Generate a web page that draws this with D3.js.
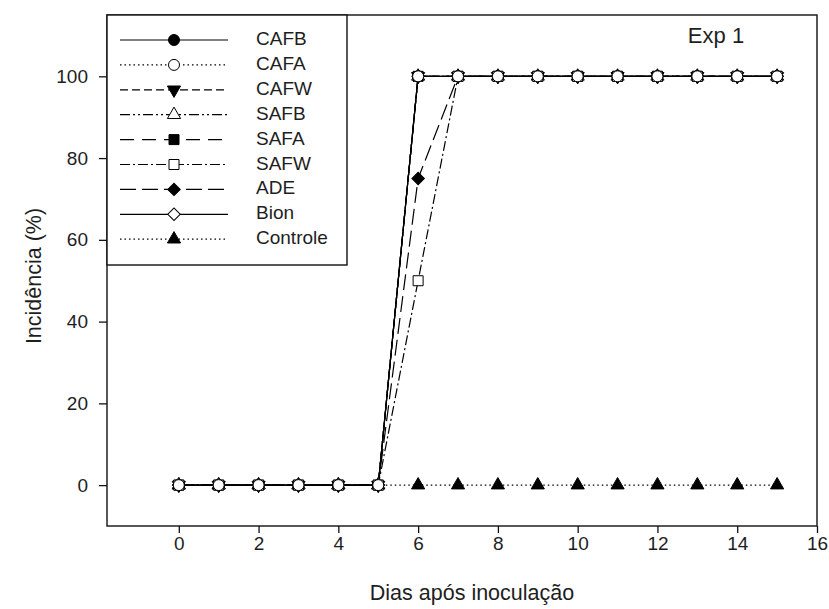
<!DOCTYPE html>
<html lang="pt">
<head>
  <meta charset="UTF-8">
  <title>Exp 1 - Incidência</title>
  <style>
    body { margin: 0; background: #fff; font-family: Arial, "Liberation Sans", sans-serif; }
    #chart { width: 829px; height: 609px; }
  </style>
  <script src="https://d3js.org/d3.v7.min.js"></script>
</head>
<body>
  <div id="chart"></div>
  <script>
    // data
    const days = [0, 1, 2, 3, 4, 5, 6, 7, 8, 9, 10, 11, 12, 13, 14, 15];
    const seriesNames = ["CAFB", "CAFA", "CAFW", "SAFB", "SAFA", "SAFW", "ADE", "Bion", "Controle"];
    const CAFB     = [0, 0, 0, 0, 0, 0, 100, 100, 100, 100, 100, 100, 100, 100, 100, 100];
    const CAFA     = [0, 0, 0, 0, 0, 0, 100, 100, 100, 100, 100, 100, 100, 100, 100, 100];
    const CAFW     = [0, 0, 0, 0, 0, 0, 100, 100, 100, 100, 100, 100, 100, 100, 100, 100];
    const SAFB     = [0, 0, 0, 0, 0, 0, 100, 100, 100, 100, 100, 100, 100, 100, 100, 100];
    const SAFA     = [0, 0, 0, 0, 0, 0, 100, 100, 100, 100, 100, 100, 100, 100, 100, 100];
    const SAFW     = [0, 0, 0, 0, 0, 0, 50, 100, 100, 100, 100, 100, 100, 100, 100, 100];
    const ADE      = [0, 0, 0, 0, 0, 0, 75, 100, 100, 100, 100, 100, 100, 100, 100, 100];
    const Bion     = [0, 0, 0, 0, 0, 0, 100, 100, 100, 100, 100, 100, 100, 100, 100, 100];
    const Controle = [0, 0, 0, 0, 0, 0, 0, 0, 0, 0, 0, 0, 0, 0, 0, 0];
    const xTicks = [0, 2, 4, 6, 8, 10, 12, 14, 16];
    const yTicks = [0, 20, 40, 60, 80, 100];

    const seriesValues = [CAFB, CAFA, CAFW, SAFB, SAFA, SAFW, ADE, Bion, Controle];

    // line / marker styles per series
    const styles = {
      CAFB:     {dash: null,            shape: "circle",   fill: "#000"},
      CAFA:     {dash: "1.5,3",         shape: "circle",   fill: "#fff"},
      CAFW:     {dash: "8,4",           shape: "triDown",  fill: "#000"},
      SAFB:     {dash: "10,3,2,3,2,3",  shape: "triUp",    fill: "#fff"},
      SAFA:     {dash: "14,8",          shape: "square",   fill: "#000"},
      SAFW:     {dash: "10,3,2,3",      shape: "square",   fill: "#fff"},
      ADE:      {dash: "16,6",          shape: "diamond",  fill: "#000"},
      Bion:     {dash: null,            shape: "diamond",  fill: "#fff"},
      Controle: {dash: "1.5,3",         shape: "triUp",    fill: "#000"}
    };

    const W = 829, H = 609;
    const plot = {left: 107, right: 817, top: 15, bottom: 526};
    const font = "Arial, 'Liberation Sans', sans-serif";
    const ink = "#1e1e1e";

    const svg = d3.select("#chart").append("svg")
      .attr("width", W)
      .attr("height", H);

    const x = d3.scaleLinear().domain([-1.8, 16]).range([plot.left, plot.right]);
    const y = d3.scaleLinear().domain([-10, 115]).range([plot.bottom, plot.top]);

    function markerPath(shape) {
      if (shape === "circle") return d3.symbol(d3.symbolCircle, 95)();
      if (shape === "square") return d3.symbol(d3.symbolSquare, 100)();
      if (shape === "diamond") return d3.symbol(d3.symbolSquare, 78)();
      return d3.symbol(d3.symbolTriangle, 75)();
    }
    function markerRotate(shape) {
      if (shape === "diamond") return 45;
      if (shape === "triDown") return 180;
      return 0;
    }

    // axes
    svg.append("g")
      .attr("transform", `translate(0,${plot.bottom})`)
      .call(d3.axisBottom(x).tickValues(xTicks).tickSize(7).tickPadding(4).tickSizeOuter(0))
      .call(g => g.select(".domain").remove())
      .call(g => g.selectAll("line").attr("stroke", "#111").attr("stroke-width", 1.3))
      .call(g => g.selectAll("text").attr("font-size", 19).attr("fill", ink).attr("font-family", font));

    svg.append("g")
      .attr("transform", `translate(${plot.left},0)`)
      .call(d3.axisLeft(y).tickValues(yTicks).tickSize(8).tickPadding(11).tickSizeOuter(0))
      .call(g => g.select(".domain").remove())
      .call(g => g.selectAll("line").attr("stroke", "#111").attr("stroke-width", 1.3))
      .call(g => g.selectAll("text").attr("font-size", 19).attr("fill", ink).attr("font-family", font));

    // plot frame
    svg.append("rect")
      .attr("x", plot.left)
      .attr("y", plot.top)
      .attr("width", plot.right - plot.left)
      .attr("height", plot.bottom - plot.top)
      .attr("fill", "none")
      .attr("stroke", "#111")
      .attr("stroke-width", 1.4);

    // lines
    const line = d3.line()
      .x((d, i) => x(days[i]))
      .y(d => y(d));

    const drawOrder = [8, 0, 2, 3, 4, 5, 6, 7, 1];

    drawOrder.forEach(k => {
      const st = styles[seriesNames[k]];
      svg.append("path")
        .datum(seriesValues[k])
        .attr("d", line)
        .attr("fill", "none")
        .attr("stroke", "#000")
        .attr("stroke-width", 1.2)
        .attr("stroke-dasharray", st.dash);
    });

    drawOrder.forEach(k => {
      const st = styles[seriesNames[k]];
      svg.append("g").selectAll("path")
        .data(seriesValues[k])
        .enter()
        .append("path")
        .attr("d", markerPath(st.shape))
        .attr("transform", (d, i) => `translate(${x(days[i])},${y(d)}) rotate(${markerRotate(st.shape)})`)
        .attr("fill", st.fill)
        .attr("stroke", "#000")
        .attr("stroke-width", 1);
    });

    // legend
    const legend = svg.append("g");
    legend.append("rect")
      .attr("x", plot.left)
      .attr("y", plot.top)
      .attr("width", 240)
      .attr("height", 250)
      .attr("fill", "#fff")
      .attr("stroke", "#111")
      .attr("stroke-width", 1.4);

    seriesNames.forEach((name, i) => {
      const st = styles[name];
      const ly = 40 + i * 24.9;
      legend.append("line")
        .attr("x1", 120).attr("x2", 228)
        .attr("y1", ly).attr("y2", ly)
        .attr("stroke", "#000")
        .attr("stroke-width", 1.2)
        .attr("stroke-dasharray", st.dash);
      legend.append("path")
        .attr("d", markerPath(st.shape))
        .attr("transform", `translate(174,${ly}) rotate(${markerRotate(st.shape)})`)
        .attr("fill", st.fill)
        .attr("stroke", "#000");
      legend.append("text")
        .attr("x", 256)
        .attr("y", ly + 5)
        .attr("font-size", 19)
        .attr("font-family", font)
        .attr("fill", ink)
        .text(name);
    });

    // labels
    svg.append("text")
      .attr("x", 716)
      .attr("y", 43)
      .attr("text-anchor", "middle")
      .attr("font-size", 22)
      .attr("font-family", font)
      .attr("fill", ink)
      .text("Exp 1");

    svg.append("text")
      .attr("x", 472)
      .attr("y", 600)
      .attr("text-anchor", "middle")
      .attr("font-size", 21.5)
      .attr("font-family", font)
      .attr("fill", ink)
      .text("Dias após inoculação");

    svg.append("text")
      .attr("transform", "translate(41,276) rotate(-90)")
      .attr("text-anchor", "middle")
      .attr("font-size", 21.5)
      .attr("font-family", font)
      .attr("fill", ink)
      .text("Incidência (%)");
  </script>
</body>
</html>
